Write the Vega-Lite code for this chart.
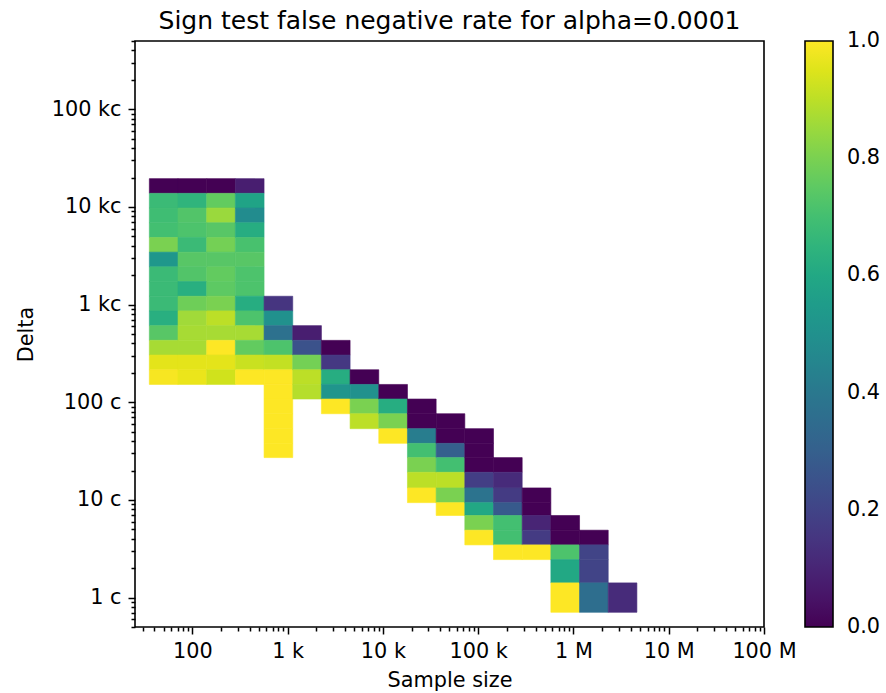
{
  "$schema": "https://vega.github.io/schema/vega-lite/v6.json",
  "width": 629,
  "height": 586,
  "autosize": {"type": "none"},
  "padding": {"left": 135, "top": 41, "right": 122, "bottom": 66},
  "background": "white",
  "title": {"text": "Sign test false negative rate for alpha=0.0001", "font": "DejaVu Sans", "fontSize": 25, "fontWeight": "normal", "color": "black", "anchor": "middle", "frame": "group", "baseline": "alphabetic", "offset": 12, "dy": 26},
  "datasets": {
    "cols": [
      {"n": 50, "n_lo": 35.355, "n_hi": 70.711},
      {"n": 100, "n_lo": 70.711, "n_hi": 141.421},
      {"n": 200, "n_lo": 141.421, "n_hi": 282.843},
      {"n": 400, "n_lo": 282.843, "n_hi": 565.685},
      {"n": 800, "n_lo": 565.685, "n_hi": 1131.371},
      {"n": 1600, "n_lo": 1131.371, "n_hi": 2262.742},
      {"n": 3200, "n_lo": 2262.742, "n_hi": 4525.483},
      {"n": 6400, "n_lo": 4525.483, "n_hi": 9050.967},
      {"n": 12800, "n_lo": 9050.967, "n_hi": 18101.934},
      {"n": 25600, "n_lo": 18101.934, "n_hi": 36203.867},
      {"n": 51200, "n_lo": 36203.867, "n_hi": 72407.734},
      {"n": 102400, "n_lo": 72407.734, "n_hi": 144815.469},
      {"n": 204800, "n_lo": 144815.469, "n_hi": 289630.938},
      {"n": 409600, "n_lo": 289630.938, "n_hi": 579261.875},
      {"n": 819200, "n_lo": 579261.875, "n_hi": 1158523.75},
      {"n": 1638400, "n_lo": 1158523.75, "n_hi": 2317047.5},
      {"n": 3276800, "n_lo": 2317047.5, "n_hi": 4634095}
    ],
    "rows": [
      {"delta": 1, "d_lo": 0.7071, "d_hi": 1.4142},
      {"delta": 2, "d_lo": 1.4142, "d_hi": 2.4495},
      {"delta": 3, "d_lo": 2.4495, "d_hi": 3.4641},
      {"delta": 4, "d_lo": 3.4641, "d_hi": 4.899},
      {"delta": 6, "d_lo": 4.899, "d_hi": 6.9282},
      {"delta": 8, "d_lo": 6.9282, "d_hi": 9.3808},
      {"delta": 11, "d_lo": 9.3808, "d_hi": 13.2665},
      {"delta": 16, "d_lo": 13.2665, "d_hi": 19.1833},
      {"delta": 23, "d_lo": 19.1833, "d_hi": 27.1293},
      {"delta": 32, "d_lo": 27.1293, "d_hi": 37.9473},
      {"delta": 45, "d_lo": 37.9473, "d_hi": 53.6656},
      {"delta": 64, "d_lo": 53.6656, "d_hi": 76.3151},
      {"delta": 91, "d_lo": 76.3151, "d_hi": 107.926},
      {"delta": 128, "d_lo": 107.926, "d_hi": 152.211},
      {"delta": 181, "d_lo": 152.211, "d_hi": 215.258},
      {"delta": 256, "d_lo": 215.258, "d_hi": 304.421},
      {"delta": 362, "d_lo": 304.421, "d_hi": 430.516},
      {"delta": 512, "d_lo": 430.516, "d_hi": 608.842},
      {"delta": 724, "d_lo": 608.842, "d_hi": 861.041},
      {"delta": 1024, "d_lo": 861.041, "d_hi": 1217.68},
      {"delta": 1448, "d_lo": 1217.68, "d_hi": 1722.08},
      {"delta": 2048, "d_lo": 1722.08, "d_hi": 2435.37},
      {"delta": 2896, "d_lo": 2435.37, "d_hi": 3444.16},
      {"delta": 4096, "d_lo": 3444.16, "d_hi": 4871.11},
      {"delta": 5793, "d_lo": 4871.11, "d_hi": 6888.85},
      {"delta": 8192, "d_lo": 6888.85, "d_hi": 9741.86},
      {"delta": 11585, "d_lo": 9741.86, "d_hi": 13777.1},
      {"delta": 16384, "d_lo": 13777.1, "d_hi": 19484.1}
    ]
  },
  "data": {"values": [
    {"n": 50, "delta": 16384, "rate": 0.0}, {"n": 50, "delta": 11585, "rate": 0.68}, {"n": 50, "delta": 8192, "rate": 0.69}, {"n": 50, "delta": 5793, "rate": 0.70}, {"n": 50, "delta": 4096, "rate": 0.80}, {"n": 50, "delta": 2896, "rate": 0.53}, {"n": 50, "delta": 2048, "rate": 0.68}, {"n": 50, "delta": 1448, "rate": 0.68}, {"n": 50, "delta": 1024, "rate": 0.68}, {"n": 50, "delta": 724, "rate": 0.63}, {"n": 50, "delta": 512, "rate": 0.74}, {"n": 50, "delta": 362, "rate": 0.87}, {"n": 50, "delta": 256, "rate": 0.96}, {"n": 50, "delta": 181, "rate": 0.99},
    {"n": 100, "delta": 16384, "rate": 0.0}, {"n": 100, "delta": 11585, "rate": 0.65}, {"n": 100, "delta": 8192, "rate": 0.73}, {"n": 100, "delta": 5793, "rate": 0.72}, {"n": 100, "delta": 4096, "rate": 0.68}, {"n": 100, "delta": 2896, "rate": 0.74}, {"n": 100, "delta": 2048, "rate": 0.73}, {"n": 100, "delta": 1448, "rate": 0.63}, {"n": 100, "delta": 1024, "rate": 0.78}, {"n": 100, "delta": 724, "rate": 0.86}, {"n": 100, "delta": 512, "rate": 0.87}, {"n": 100, "delta": 362, "rate": 0.87}, {"n": 100, "delta": 256, "rate": 0.96}, {"n": 100, "delta": 181, "rate": 0.97},
    {"n": 200, "delta": 16384, "rate": 0.0}, {"n": 200, "delta": 11585, "rate": 0.76}, {"n": 200, "delta": 8192, "rate": 0.85}, {"n": 200, "delta": 5793, "rate": 0.74}, {"n": 200, "delta": 4096, "rate": 0.79}, {"n": 200, "delta": 2896, "rate": 0.74}, {"n": 200, "delta": 2048, "rate": 0.76}, {"n": 200, "delta": 1448, "rate": 0.75}, {"n": 200, "delta": 1024, "rate": 0.80}, {"n": 200, "delta": 724, "rate": 0.90}, {"n": 200, "delta": 512, "rate": 0.87}, {"n": 200, "delta": 362, "rate": 1.0}, {"n": 200, "delta": 256, "rate": 0.96}, {"n": 200, "delta": 181, "rate": 0.93},
    {"n": 400, "delta": 16384, "rate": 0.08}, {"n": 400, "delta": 11585, "rate": 0.58}, {"n": 400, "delta": 8192, "rate": 0.48}, {"n": 400, "delta": 5793, "rate": 0.62}, {"n": 400, "delta": 4096, "rate": 0.71}, {"n": 400, "delta": 2896, "rate": 0.74}, {"n": 400, "delta": 2048, "rate": 0.72}, {"n": 400, "delta": 1448, "rate": 0.72}, {"n": 400, "delta": 1024, "rate": 0.62}, {"n": 400, "delta": 724, "rate": 0.72}, {"n": 400, "delta": 512, "rate": 0.87}, {"n": 400, "delta": 362, "rate": 0.76}, {"n": 400, "delta": 256, "rate": 0.92}, {"n": 400, "delta": 181, "rate": 1.0},
    {"n": 800, "delta": 1024, "rate": 0.15}, {"n": 800, "delta": 724, "rate": 0.5}, {"n": 800, "delta": 512, "rate": 0.37}, {"n": 800, "delta": 362, "rate": 0.72}, {"n": 800, "delta": 256, "rate": 0.91}, {"n": 800, "delta": 181, "rate": 1.0}, {"n": 800, "delta": 128, "rate": 1.0}, {"n": 800, "delta": 91, "rate": 1.0}, {"n": 800, "delta": 64, "rate": 1.0}, {"n": 800, "delta": 45, "rate": 1.0}, {"n": 800, "delta": 32, "rate": 1.0},
    {"n": 1600, "delta": 512, "rate": 0.08}, {"n": 1600, "delta": 362, "rate": 0.25}, {"n": 1600, "delta": 256, "rate": 0.79}, {"n": 1600, "delta": 181, "rate": 0.9}, {"n": 1600, "delta": 128, "rate": 0.89},
    {"n": 3200, "delta": 362, "rate": 0.0}, {"n": 3200, "delta": 256, "rate": 0.16}, {"n": 3200, "delta": 181, "rate": 0.62}, {"n": 3200, "delta": 128, "rate": 0.52}, {"n": 3200, "delta": 91, "rate": 1.0},
    {"n": 6400, "delta": 181, "rate": 0.0}, {"n": 6400, "delta": 128, "rate": 0.5}, {"n": 6400, "delta": 91, "rate": 0.8}, {"n": 6400, "delta": 64, "rate": 0.9},
    {"n": 12800, "delta": 128, "rate": 0.0}, {"n": 12800, "delta": 91, "rate": 0.62}, {"n": 12800, "delta": 64, "rate": 0.8}, {"n": 12800, "delta": 45, "rate": 1.0},
    {"n": 25600, "delta": 91, "rate": 0.0}, {"n": 25600, "delta": 64, "rate": 0.0}, {"n": 25600, "delta": 45, "rate": 0.42}, {"n": 25600, "delta": 32, "rate": 0.7}, {"n": 25600, "delta": 23, "rate": 0.8}, {"n": 25600, "delta": 16, "rate": 0.9}, {"n": 25600, "delta": 11, "rate": 1.0},
    {"n": 51200, "delta": 64, "rate": 0.0}, {"n": 51200, "delta": 45, "rate": 0.0}, {"n": 51200, "delta": 32, "rate": 0.3}, {"n": 51200, "delta": 23, "rate": 0.7}, {"n": 51200, "delta": 16, "rate": 0.9}, {"n": 51200, "delta": 11, "rate": 0.8}, {"n": 51200, "delta": 8, "rate": 1.0},
    {"n": 102400, "delta": 45, "rate": 0.0}, {"n": 102400, "delta": 32, "rate": 0.0}, {"n": 102400, "delta": 23, "rate": 0.0}, {"n": 102400, "delta": 16, "rate": 0.18}, {"n": 102400, "delta": 11, "rate": 0.38}, {"n": 102400, "delta": 8, "rate": 0.6}, {"n": 102400, "delta": 6, "rate": 0.8}, {"n": 102400, "delta": 4, "rate": 1.0},
    {"n": 204800, "delta": 23, "rate": 0.0}, {"n": 204800, "delta": 16, "rate": 0.12}, {"n": 204800, "delta": 11, "rate": 0.17}, {"n": 204800, "delta": 8, "rate": 0.28}, {"n": 204800, "delta": 6, "rate": 0.7}, {"n": 204800, "delta": 4, "rate": 0.7}, {"n": 204800, "delta": 3, "rate": 1.0},
    {"n": 409600, "delta": 11, "rate": 0.0}, {"n": 409600, "delta": 8, "rate": 0.0}, {"n": 409600, "delta": 6, "rate": 0.1}, {"n": 409600, "delta": 4, "rate": 0.17}, {"n": 409600, "delta": 3, "rate": 1.0},
    {"n": 819200, "delta": 6, "rate": 0.0}, {"n": 819200, "delta": 4, "rate": 0.0}, {"n": 819200, "delta": 3, "rate": 0.72}, {"n": 819200, "delta": 2, "rate": 0.6}, {"n": 819200, "delta": 1, "rate": 1.0},
    {"n": 1638400, "delta": 4, "rate": 0.0}, {"n": 1638400, "delta": 3, "rate": 0.2}, {"n": 1638400, "delta": 2, "rate": 0.2}, {"n": 1638400, "delta": 1, "rate": 0.36},
    {"n": 3276800, "delta": 1, "rate": 0.12}
  ]},
  "transform": [
    {"lookup": "n", "from": {"data": {"name": "cols"}, "key": "n", "fields": ["n_lo", "n_hi"]}},
    {"lookup": "delta", "from": {"data": {"name": "rows"}, "key": "delta", "fields": ["d_lo", "d_hi"]}}
  ],
  "layer": [
    {
      "mark": {"type": "rect", "strokeWidth": 0.6, "stroke": {"expr": "scale('color', datum.rate)"}},
      "encoding": {
        "x": {"field": "n_lo", "type": "quantitative", "scale": {"type": "log", "domain": [25, 100000000], "nice": false, "zero": false},
          "axis": {"orient": "bottom", "title": "Sample size", "values": [100, 1000, 10000, 100000, 1000000, 10000000, 100000000], "tickSize": 7, "labelPadding": 7, "titlePadding": 10,
            "labelExpr": "datum.value == 100 ? '100' : datum.value == 1000 ? '1 k' : datum.value == 10000 ? '10 k' : datum.value == 100000 ? '100 k' : datum.value == 1000000 ? '1 M' : datum.value == 10000000 ? '10 M' : datum.value == 100000000 ? '100 M' : ''"}},
        "x2": {"field": "n_hi"},
        "y": {"field": "d_lo", "type": "quantitative", "scale": {"type": "log", "domain": [0.5, 500000], "nice": false, "zero": false},
          "axis": {"orient": "left", "title": "Delta", "values": [1, 10, 100, 1000, 10000, 100000], "tickSize": 7, "labelPadding": 7, "titlePadding": 15,
            "labelExpr": "datum.value == 1 ? '1 c' : datum.value == 10 ? '10 c' : datum.value == 100 ? '100 c' : datum.value == 1000 ? '1 kc' : datum.value == 10000 ? '10 kc' : datum.value == 100000 ? '100 kc' : ''"}},
        "y2": {"field": "d_hi"},
        "color": {"field": "rate", "type": "quantitative", "scale": {"scheme": "viridis", "domain": [0, 1]},
          "legend": {"type": "gradient", "title": null, "orient": "right", "direction": "vertical", "offset": 41, "padding": 0, "gradientLength": 586, "gradientThickness": 28, "gradientStrokeColor": "black", "gradientStrokeWidth": 1.6,
            "values": [0, 0.2, 0.4, 0.6, 0.8, 1.0], "format": ".1f", "labelFont": "DejaVu Sans", "labelFontSize": 20.8, "labelColor": "black", "labelOffset": 14, "labelOverlap": false,
            "encode": {"labels": {"update": {"baseline": {"value": "middle"}}}}}}
      }
    },
    {
      "mark": {"type": "rect", "opacity": 0},
      "encoding": {
        "x": {"field": "n_lo", "type": "quantitative",
          "axis": {"orient": "bottom", "title": null, "labels": false, "tickSize": 4,
            "values": [30, 40, 50, 60, 70, 80, 90, 200, 300, 400, 500, 600, 700, 800, 900, 2000, 3000, 4000, 5000, 6000, 7000, 8000, 9000, 20000, 30000, 40000, 50000, 60000, 70000, 80000, 90000, 200000, 300000, 400000, 500000, 600000, 700000, 800000, 900000, 2000000, 3000000, 4000000, 5000000, 6000000, 7000000, 8000000, 9000000, 20000000, 30000000, 40000000, 50000000, 60000000, 70000000, 80000000, 90000000]}},
        "x2": {"field": "n_hi"},
        "y": {"field": "d_lo", "type": "quantitative",
          "axis": {"orient": "left", "title": null, "labels": false, "tickSize": 4,
            "values": [0.5, 0.6, 0.7, 0.8, 0.9, 2, 3, 4, 5, 6, 7, 8, 9, 20, 30, 40, 50, 60, 70, 80, 90, 200, 300, 400, 500, 600, 700, 800, 900, 2000, 3000, 4000, 5000, 6000, 7000, 8000, 9000, 20000, 30000, 40000, 50000, 60000, 70000, 80000, 90000, 200000, 300000, 400000, 500000]}},
        "y2": {"field": "d_hi"}
      }
    }
  ],
  "resolve": {"axis": {"x": "independent", "y": "independent"}},
  "config": {
    "font": "DejaVu Sans",
    "view": {"stroke": "black", "strokeWidth": 1.6},
    "axis": {"grid": false, "domain": false, "tickColor": "black", "tickWidth": 1.5, "labelColor": "black", "labelFont": "DejaVu Sans", "labelFontSize": 20.8, "labelOverlap": false, "labelFlush": false, "titleFont": "DejaVu Sans", "titleFontSize": 20.8, "titleFontWeight": "normal", "titleColor": "black"}
  }
}
